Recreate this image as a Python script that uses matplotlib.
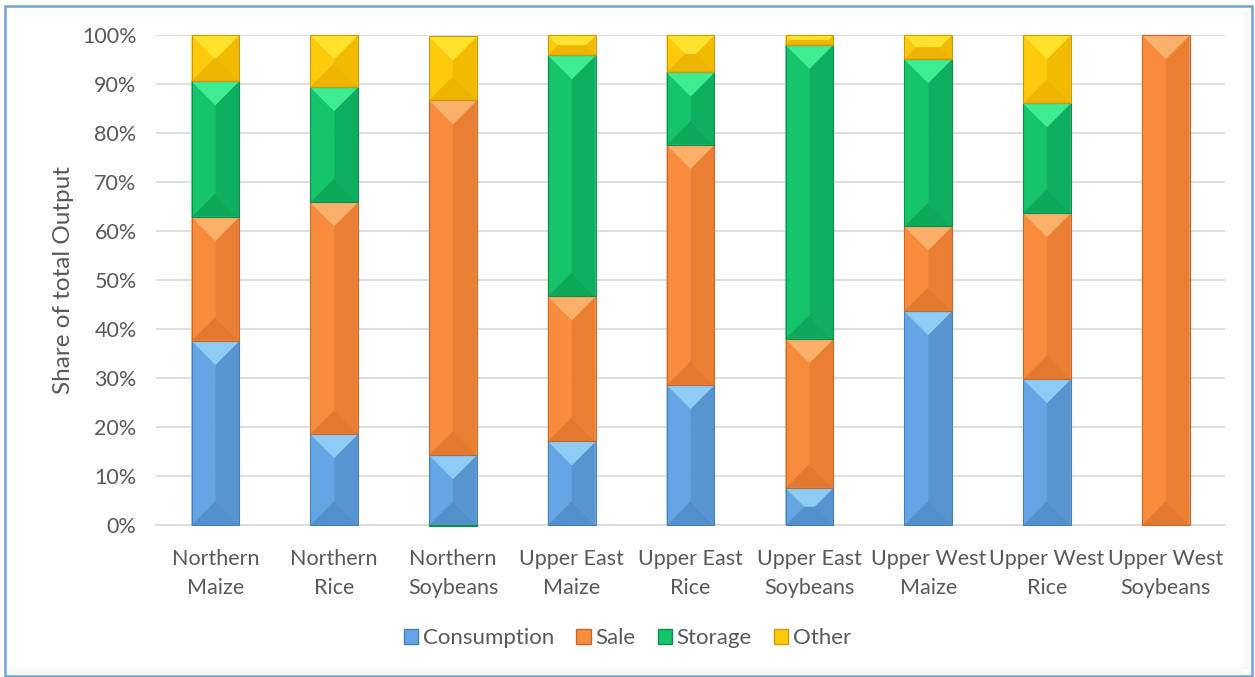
import matplotlib.pyplot as plt
from matplotlib.patches import Polygon, Patch, Rectangle
from matplotlib.ticker import FuncFormatter

categories = ["Northern\nMaize", "Northern\nRice", "Northern\nSoybeans",
              "Upper East\nMaize", "Upper East\nRice", "Upper East\nSoybeans",
              "Upper West\nMaize", "Upper West\nRice", "Upper West\nSoybeans"]
consumption = [37.6, 18.6, 14.3, 17.1, 28.6, 7.6, 43.7, 29.8, 0.0]
sale = [25.3, 47.3, 72.4, 29.6, 49.0, 30.4, 17.3, 33.9, 100.0]
storage = [27.7, 23.5, -0.3, 49.2, 14.8, 60.0, 34.1, 22.4, 0.0]
other = [9.4, 10.6, 13.0, 4.1, 7.6, 2.0, 4.9, 13.9, 0.0]

series = [("Consumption", consumption), ("Sale", sale),
          ("Storage", storage), ("Other", other)]

# top, left, right, bottom, edge
shades = {
    "Consumption": ("#8ECCF6", "#64A6E5", "#5794D0", "#5290CB", "#4A7FB5"),
    "Sale": ("#FBB06A", "#F98C3C", "#EA7F33", "#E3792F", "#C8682A"),
    "Storage": ("#40EC92", "#15C46B", "#0DAF5F", "#0CA95B", "#0A8F4C"),
    "Other": ("#FFE22C", "#FFC90C", "#F3BB00", "#EDB400", "#C99A10"),
}

plt.rcParams["font.family"] = ["Lato", "DejaVu Sans"]
text_col = "#595959"

W, H, DPI = 12.55, 6.77, 100
fig = plt.figure(figsize=(W, H), dpi=DPI)
ax_left, ax_bottom, ax_w, ax_h = 0.1243, 0.2245, 0.852, 0.7238
ax = fig.add_axes([ax_left, ax_bottom, ax_w, ax_h])

n = len(categories)
ax.set_xlim(-0.5, n - 0.5)
ax.set_ylim(0, 100)

# pixels per data unit, used to keep the bevel corners at 45 degrees
xpx = ax_w * W * DPI / n
ypx = ax_h * H * DPI / 100.0
bar_w = 0.4


def bevel_bar(x, y0, y1, cols):
    x0, x1 = x - bar_w / 2, x + bar_w / 2
    lo, hi = min(y0, y1), max(y0, y1)
    w_px = bar_w * xpx
    h_px = (hi - lo) * ypx
    b = min(w_px, h_px) / 2
    bx, by = b / xpx, b / ypx
    top, left, right, bottom, edge = cols
    faces = [
        ([(x0, lo), (x0 + bx, lo + by), (x0 + bx, hi - by), (x0, hi)], left),
        ([(x0 + bx, lo + by), (x1 - bx, lo + by), (x1 - bx, hi - by), (x0 + bx, hi - by)], left),
        ([(x1, lo), (x1 - bx, lo + by), (x1 - bx, hi - by), (x1, hi)], right),
        ([(x0, lo), (x1, lo), (x1 - bx, lo + by), (x0 + bx, lo + by)], bottom),
        ([(x0, hi), (x1, hi), (x1 - bx, hi - by), (x0 + bx, hi - by)], top),
    ]
    for pts, c in faces:
        ax.add_patch(Polygon(pts, closed=True, facecolor=c, edgecolor=c,
                             linewidth=0.3, zorder=3, clip_on=False))
    ax.add_patch(Rectangle((x0, lo), bar_w, hi - lo, fill=False,
                           edgecolor=edge, linewidth=0.8, zorder=4, clip_on=False))


pos_base = [0.0] * n
neg_base = [0.0] * n
for name, vals in series:
    for i, v in enumerate(vals):
        if v == 0:
            continue
        if v > 0:
            bevel_bar(i, pos_base[i], pos_base[i] + v, shades[name])
            pos_base[i] += v
        else:
            bevel_bar(i, neg_base[i], neg_base[i] + v, shades[name])
            neg_base[i] += v

ax.set_yticks(range(0, 101, 10))
ax.yaxis.set_major_formatter(FuncFormatter(lambda v, _: f"{v:.0f}%"))
ax.grid(axis="y", color="#D9D9D9", linewidth=1.2, zorder=0)
ax.set_axisbelow(True)
for s in ["top", "right", "left"]:
    ax.spines[s].set_visible(False)
ax.spines["bottom"].set_color("#D9D9D9")
ax.spines["bottom"].set_linewidth(1.2)
ax.tick_params(axis="both", length=0, colors=text_col, labelsize=15.5)
ax.tick_params(axis="y", pad=14)
ax.tick_params(axis="x", pad=17)
ax.set_xticks(range(n))
ax.set_xticklabels(categories, linespacing=1.6)
ax.set_ylabel("Share of total Output", fontsize=17.5, color=text_col, labelpad=6)

handles = [Patch(facecolor=shades[name][1], edgecolor=shades[name][4], label=name)
           for name, _ in series]
leg = fig.legend(handles=handles, loc="center", bbox_to_anchor=(0.5, 0.057),
                 ncol=4, frameon=False, fontsize=16, handlelength=0.65,
                 handleheight=0.65, handletextpad=0.2, columnspacing=1.0)
for t in leg.get_texts():
    t.set_color(text_col)

# chart frame with a soft inner shadow on the right and bottom
for k in range(8):
    a = 0.035 * (8 - k) / 8
    fig.add_artist(Rectangle((1 - (8 + k) / 1255, 0.012), 1 / 1255, 0.97,
                             transform=fig.transFigure, color="black", alpha=a, lw=0))
    fig.add_artist(Rectangle((0.006, (3 + k) / 677), 0.985, 1 / 677,
                             transform=fig.transFigure, color="black", alpha=a, lw=0))
fig.add_artist(Rectangle((5 / 1255, 1.5 / 677), 1247 / 1255, 670 / 677,
                         transform=fig.transFigure, fill=False,
                         edgecolor="#6FA3D8", linewidth=1.8))

fig.savefig("out.png", dpi=DPI)
